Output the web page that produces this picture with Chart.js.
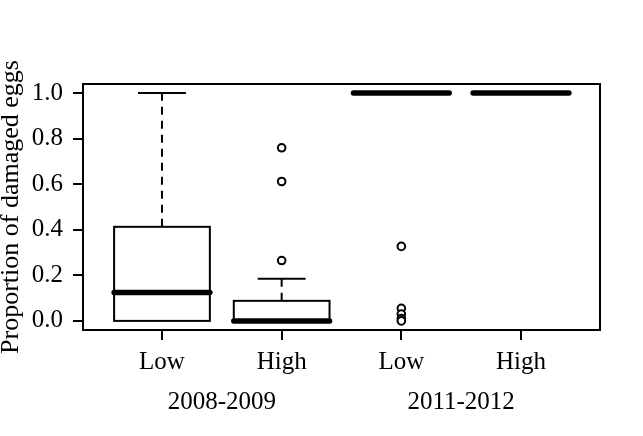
<!DOCTYPE html>
<html>
<head>
<meta charset="utf-8">
<script src="https://cdn.jsdelivr.net/npm/chart.js@4/dist/chart.umd.min.js"></script>
<style>
  html, body { margin: 0; padding: 0; background: #fff; }
  #wrap { width: 643px; height: 436px; }
  #probe { font-family: 'Liberation Serif'; position: absolute; left: -999px; }
</style>
</head>
<body>
<span id="probe">Low 0.2</span>
<div id="wrap"><canvas id="chart" width="643" height="436"></canvas></div>
<script>
// ===== data =====
const categories = ['Low', 'High', 'Low', 'High'];
const groups = ['2008-2009', '2011-2012'];
const boxLow = [0, 0, 1, 1];          // lower whisker end
const boxQ1 = [0, 0, 1, 1];
const boxMedian = [0.125, 0, 1, 1];
const boxQ3 = [0.413, 0.088, 1, 1];
const boxHigh = [1, 0.185, 1, 1];     // upper whisker end
const outliers = [
  [],
  [0.76, 0.612, 0.265],
  [0.327, 0.055, 0.03, 0.01, 0],
  []
];
const yTicks = [0, 0.2, 0.4, 0.6, 0.8, 1.0];

const FONT = { family: "'Liberation Serif', 'Times New Roman', Times, serif", size: 25 };

// outlier points as scatter data
const outlierPoints = [];
outliers.forEach((vals, i) => vals.forEach(v => outlierPoints.push({ x: i + 1, y: v })));

// ===== boxplot drawing plugin =====
const boxPlugin = {
  id: 'boxPlot',
  beforeDatasetsDraw(chart) {
    const { ctx, scales: { x, y } } = chart;
    const halfW = 0.4, capW = 0.2;
    ctx.save();
    ctx.strokeStyle = '#000';
    for (let i = 0; i < categories.length; i++) {
      const c = i + 1;
      const xl = x.getPixelForValue(c - halfW);
      const xr = x.getPixelForValue(c + halfW);
      const xc = x.getPixelForValue(c);
      const cl = x.getPixelForValue(c - capW);
      const cr = x.getPixelForValue(c + capW);
      const yq1 = y.getPixelForValue(boxQ1[i]);
      const yq3 = y.getPixelForValue(boxQ3[i]);
      const ymed = y.getPixelForValue(boxMedian[i]);
      const ylo = y.getPixelForValue(boxLow[i]);
      const yhi = y.getPixelForValue(boxHigh[i]);

      // whiskers
      ctx.lineWidth = 2;
      ctx.setLineDash([8, 6]);
      ctx.beginPath();
      if (yhi < yq3) { ctx.moveTo(xc, yq3); ctx.lineTo(xc, yhi); }
      if (ylo > yq1) { ctx.moveTo(xc, yq1); ctx.lineTo(xc, ylo); }
      ctx.stroke();
      ctx.setLineDash([]);
      ctx.beginPath();
      if (yhi < yq3) { ctx.moveTo(cl, yhi); ctx.lineTo(cr, yhi); }
      if (ylo > yq1) { ctx.moveTo(cl, ylo); ctx.lineTo(cr, ylo); }
      ctx.stroke();

      // box
      if (yq1 - yq3 > 0.5) {
        ctx.fillStyle = '#fff';
        ctx.fillRect(xl, yq3, xr - xl, yq1 - yq3);
        ctx.strokeRect(xl, yq3, xr - xl, yq1 - yq3);
      }

      // median
      ctx.lineWidth = 5.5;
      ctx.lineCap = 'round';
      ctx.beginPath();
      ctx.moveTo(xl, ymed);
      ctx.lineTo(xr, ymed);
      ctx.stroke();
      ctx.lineCap = 'butt';
    }
    ctx.restore();
  },
  afterDraw(chart) {
    const { ctx, chartArea: a } = chart;
    ctx.save();
    ctx.strokeStyle = '#000';
    ctx.lineWidth = 2;
    ctx.strokeRect(a.left, a.top, a.right - a.left, a.bottom - a.top);
    ctx.restore();
  }
};

function drawChart() {
  new Chart(document.getElementById('chart'), {
    type: 'scatter',
    data: {
      datasets: [{
        data: outlierPoints,
        pointStyle: 'circle',
        pointRadius: 3.8,
        pointBorderWidth: 2,
        pointBorderColor: '#000',
        pointBackgroundColor: '#fff',
      }],
    },
    options: {
      responsive: false,
      animation: false,
      devicePixelRatio: 1,
      layout: { padding: { left: 0, top: 84, right: 43, bottom: 0 } },
      plugins: { legend: { display: false }, tooltip: { enabled: false } },
      scales: {
        x: {
          type: 'linear',
          position: 'bottom',
          weight: 0,
          min: 0.34, max: 4.66,
          afterBuildTicks: s => { s.ticks = categories.map((_, i) => ({ value: i + 1 })); },
          afterFit: s => { s.height = 50; },
          ticks: {
            color: '#000', font: FONT, padding: 7, maxRotation: 0, autoSkip: false,
            callback: v => categories[Math.round(v) - 1],
          },
          grid: { drawOnChartArea: false, drawTicks: true, tickLength: 10, color: '#000', lineWidth: 2 },
          border: { display: false },
        },
        x2: {
          type: 'linear',
          position: 'bottom',
          weight: 1,
          min: 0.34, max: 4.66,
          afterBuildTicks: s => { s.ticks = groups.map((_, i) => ({ value: i * 2 + 1.5 })); },
          afterFit: s => { s.height = 56; },
          ticks: {
            color: '#000', font: FONT, padding: -1, maxRotation: 0, autoSkip: false,
            callback: v => groups[Math.round((v - 1.5) / 2)],
          },
          grid: { display: false },
          border: { display: false },
        },
        y: {
          type: 'linear',
          min: -0.04, max: 1.04,
          afterBuildTicks: s => { s.ticks = yTicks.map(v => ({ value: v })); },
          afterFit: s => { s.width = 83; },
          ticks: { color: '#000', font: FONT, padding: 10, callback: v => v.toFixed(1) },
          grid: { drawOnChartArea: false, drawTicks: true, tickLength: 10, color: '#000', lineWidth: 2 },
          border: { display: false },
          title: { display: true, text: 'Proportion of damaged eggs', color: '#000', font: { ...FONT, size: 26 }, padding: { top: -4, bottom: 0 } },
        },
      },
    },
    plugins: [boxPlugin],
  });
}

document.fonts.load("25px 'Liberation Serif'").then(drawChart, drawChart);
</script>
</body>
</html>
